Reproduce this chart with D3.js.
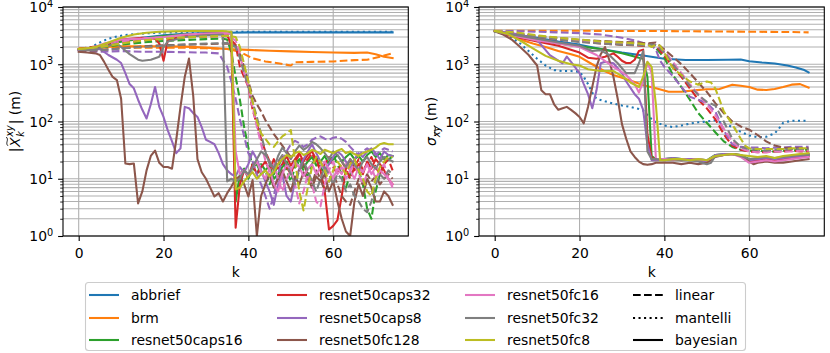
<!DOCTYPE html>
<html><head><meta charset="utf-8">
<script src="https://cdn.jsdelivr.net/npm/d3@7"></script>
<style>body{margin:0;background:#fff}text{font-family:"DejaVu Sans",sans-serif;fill:#000}</style>
</head><body><svg id="c" width="830" height="353" xmlns="http://www.w3.org/2000/svg"></svg>
<script>
const models = ["abbrief","brm","resnet50caps16","resnet50caps32","resnet50caps8","resnet50fc128","resnet50fc16","resnet50fc32","resnet50fc8"];
const colors = ["#1f77b4","#ff7f0e","#2ca02c","#d62728","#9467bd","#8c564b","#e377c2","#7f7f7f","#bcbd22"];
const methods = ["linear","mantelli","bayesian"];
const xTicks = [0,20,40,60];
const yTicks = [1,10,100,1000,10000];
const kMax = 74;

// ---------- left panel: |X_k^xy| (m) ----------
const xy_abbrief_mantelli = [[0,1800],[2,1850],[3,2000],[5,2400],[7,2800],[9,3050],[11,3250],[14,3400],[17,3500],[20,3580],[25,3650],[30,3700],[40,3700],[50,3680],[60,3680],[74,3680]];
const xy_abbrief_bayesian = [[0,1800],[3,1850],[6,2100],[10,2500],[15,2900],[20,3200],[25,3400],[30,3500],[35,3550],[40,3600],[50,3600],[60,3600],[74,3600]];
const xy_brm_linear = [[0,1900],[5,1950],[10,1950],[15,1950],[20,1950],[25,1950],[30,1900],[35,1850],[38,1650],[41,1270],[44,1120],[47,1040],[50,950],[51,1080],[55,1100],[60,1120],[65,1180],[68,1200],[71,1350],[74,1550]];
const xy_brm_bayesian = [[0,1850],[5,2000],[10,2050],[20,2050],[25,2030],[30,1950],[35,1850],[40,1780],[45,1720],[50,1680],[55,1640],[60,1600],[65,1580],[68,1600],[70,1500],[72,1350],[74,1280]];
const xy_caps16_linear = [[0,1800],[5,1950],[10,2200],[15,2400],[20,2550],[25,2650],[30,2750],[34,2800],[35,2700],[36,1600],[37,600],[38,240],[39,80],[40,35],[41,16],[42,12],[43,18],[44,14],[45,8],[46,12],[47,17],[48,22],[49,14],[50,9],[51,16],[52,20],[53,14],[54,11],[55,18],[56,24],[57,16],[58,12],[59,20],[60,26],[61,18],[62,12],[63,7],[64,12],[65,18],[66,14],[67,8],[68,3],[69,2],[70,6],[71,12],[72,18],[73,22],[74,24]];
const xy_caps16_bayesian = [[0,1800],[3,1800],[6,2100],[10,2500],[15,2800],[20,3100],[25,3300],[30,3400],[35,3500],[36,3400],[37,4],[38,12],[39,15],[40,10],[41,16],[42,18],[43,12],[44,14],[45,17],[46,10],[47,12],[48,16],[49,20],[50,14],[51,18],[52,22],[53,16],[54,20],[55,24],[56,17],[57,20],[58,25],[59,18],[60,22],[61,26],[62,20],[63,24],[64,28],[65,22],[66,25],[67,20],[68,26],[69,30],[70,24],[71,28],[72,22],[73,26],[74,25]];
const xy_caps32_linear = [[0,1850],[5,2100],[10,2400],[15,2600],[20,2800],[25,2950],[30,3050],[35,3100],[37,2200],[38,900],[40,400],[41,160],[42,90],[43,50],[44,30],[45,20],[46,14],[47,18],[48,24],[49,16],[50,12],[51,20],[52,26],[53,18],[54,22],[55,28],[56,20],[57,14],[58,18],[59,24],[60,16],[61,12],[62,20],[63,15],[64,10],[65,16],[66,22],[67,14],[68,18],[69,24],[70,16],[71,12],[72,18],[73,22],[74,14]];
const xy_caps32_bayesian = [[0,1800],[3,1850],[6,2200],[10,2700],[15,2900],[18,2800],[19,2300],[20,1150],[21,2600],[25,3200],[30,3400],[35,3450],[36,2000],[37,1.4],[38,8],[39,14],[40,11],[41,18],[42,12],[43,16],[44,20],[45,14],[46,22],[47,15],[48,18],[49,25],[50,17],[51,22],[52,28],[53,20],[54,26],[55,30],[56,22],[57,14],[58,6],[59,1.3],[60,1.5],[61,1.9],[62,5],[63,15],[64,22],[65,14],[66,18],[67,12],[68,20],[69,15],[70,22],[71,18],[72,14],[73,10],[74,8]];
const xy_caps8_linear = [[0,1750],[5,1650],[10,1700],[15,1650],[20,1650],[25,1620],[30,1600],[33,1550],[35,900],[36,500],[37,250],[38,110],[39,55],[40,28],[41,20],[42,12],[43,8],[44,5],[45,3],[46,5],[47,12],[48,22],[49,30],[50,40],[51,46],[52,42],[53,36],[54,40],[55,48],[56,52],[57,55],[58,50],[59,48],[60,52],[61,54],[62,50],[63,44],[64,36],[65,30],[66,26],[67,30],[68,34],[69,30],[70,26],[71,30],[72,34],[73,32],[74,30]];
const xy_caps8_bayesian = [[0,1750],[3,1800],[5,1850],[7,1450],[9,1200],[10,1050],[11,700],[12,450],[13,380],[14,240],[15,160],[16,113],[17,200],[18,400],[19,180],[20,120],[21,70],[22,45],[23,28],[24,34],[25,180],[26,170],[27,140],[28,120],[29,80],[30,48],[31,44],[32,40],[33,28],[34,18],[35,14],[36,12],[37,11],[38,16],[39,13],[40,18],[41,30],[42,22],[43,14],[44,9],[45,6],[46,3.5],[47,8],[48,12],[49,5],[50,4],[51,9],[52,15],[53,22],[54,30],[55,40],[56,28],[57,20],[58,14],[59,18],[60,24],[61,30],[62,26],[63,20],[64,15],[65,22],[66,28],[67,24],[68,30],[69,34],[70,28],[71,22],[72,30],[73,26],[74,25]];
const xy_fc128_linear = [[0,1750],[5,1750],[10,1900],[15,2050],[20,2150],[25,2200],[30,2250],[35,2300],[37,2100],[38,1500],[39,900],[40,500],[41,280],[42,200],[43,150],[44,106],[45,80],[46,60],[47,48],[48,38],[49,30],[50,24],[51,18],[52,14],[53,18],[54,12],[55,8],[56,14],[57,10],[58,6],[59,9],[60,12],[61,8],[62,5],[63,4],[64,3.5],[65,6],[66,10],[67,8],[68,12],[69,9],[70,11],[71,8],[72,10],[73,12],[74,10]];
const xy_fc128_bayesian = [[0,1650],[2,1600],[4,1550],[5,1450],[6,1100],[7,800],[8,600],[9,530],[10,250],[11,18.5],[12,18],[13,18.5],[14,3.7],[15,6],[16,14],[17,25],[18,31],[19,19],[20,16],[21,16],[22,15],[23,48],[24,180],[25,600],[26,1260],[27,280],[28,22],[29,13],[30,10],[31,7],[32,4.9],[33,5.6],[34,4],[35,5.6],[36,7.3],[37,10],[38,11],[39,8],[40,4.9],[41,9.5],[42,1],[43,5],[44,8],[45,12],[46,7],[47,10],[48,14],[49,9],[50,6],[51,11],[52,8],[53,13],[54,10],[55,7],[56,11],[57,9],[58,12],[59,6],[60,9],[61,4],[62,2],[63,1.2],[64,1],[65,4],[66,8],[67,5],[68,10],[69,7],[70,4],[71,4],[72,6],[73,5],[74,3.5]];
const xy_fc16_linear = [[0,1800],[5,2000],[10,2500],[15,2800],[20,2950],[25,3050],[30,3150],[35,3200],[37,2600],[38,1500],[39,700],[40,400],[41,180],[42,81],[43,40],[44,21],[45,14],[46,18],[47,10],[48,6],[49,10],[50,14],[51,8],[52,3.7],[53,6],[54,12],[55,8],[56,4],[57,3.3],[58,8],[59,14],[60,20],[61,12],[62,16],[63,10],[64,14],[65,18],[66,12],[67,8],[68,12],[69,16],[70,10],[71,14],[72,18],[73,10],[74,7]];
const xy_fc16_bayesian = [[0,1800],[3,1900],[6,2300],[10,2700],[15,2800],[20,3000],[25,3300],[30,3450],[35,3500],[36,3300],[37,30],[38,12],[39,14],[40,11],[41,16],[42,20],[43,13],[44,10],[45,15],[46,8],[47,6],[48,12],[49,18],[50,14],[51,20],[52,16],[53,11],[54,15],[55,18],[56,12],[57,16],[58,20],[59,14],[60,10],[61,15],[62,12],[63,18],[64,14],[65,10],[66,16],[67,13],[68,18],[69,12],[70,16],[71,14],[72,12],[73,10],[74,8]];
const xy_fc32_linear = [[0,1800],[5,1750],[10,1900],[15,2000],[20,2100],[25,2200],[30,2300],[35,2350],[37,2000],[38,1300],[39,700],[40,400],[41,220],[42,120],[43,60],[44,30],[45,18],[46,14],[47,20],[48,26],[49,18],[50,12],[51,8],[52,14],[53,20],[54,14],[55,9],[56,6],[57,10],[58,16],[59,12],[60,8],[61,12],[62,10],[63,6],[64,8],[65,5],[66,4],[67,3],[68,2.6],[69,4],[70,8],[71,12],[72,10],[73,14],[74,12]];
const xy_fc32_bayesian = [[0,1800],[3,1750],[6,2000],[9,2300],[10,2000],[12,1500],[14,1200],[15,1150],[17,1200],[19,1350],[20,2000],[21,2500],[25,3000],[30,3200],[34,3300],[35,9],[36,10],[37,9],[38,10],[39,14],[40,12],[41,16],[42,22],[43,30],[44,26],[45,20],[46,15],[47,25],[48,35],[49,28],[50,22],[51,30],[52,38],[53,32],[54,36],[55,44],[56,40],[57,34],[58,28],[59,22],[60,30],[61,26],[62,20],[63,16],[64,22],[65,18],[66,14],[67,20],[68,24],[69,18],[70,15],[71,20],[72,24],[73,22],[74,20]];
const xy_fc8_linear = [[0,1850],[5,2000],[10,2300],[15,2600],[20,2800],[25,2950],[30,3050],[35,3150],[37,3000],[38,2000],[39,1000],[40,500],[41,220],[42,100],[43,62],[44,50],[45,40],[46,36],[47,45],[48,55],[49,62],[50,71],[51,21],[52,6],[53,2.8],[54,7],[55,16],[56,24],[57,20],[58,14],[59,9],[60,14],[61,20],[62,16],[63,12],[64,18],[65,22],[66,14],[67,10],[68,6],[69,5],[70,10],[71,16],[72,20],[73,24],[74,24]];
const xy_fc8_bayesian = [[0,1850],[2,1900],[4,2000],[7,2400],[10,2900],[13,3300],[16,3550],[19,3700],[22,3750],[26,3800],[30,3800],[34,3800],[36,3700],[37,6.5],[38,7],[39,9],[40,11],[41,13],[42,10],[43,12],[44,14],[45,11],[46,13],[47,18],[48,22],[49,26],[50,24],[51,28],[52,30],[53,26],[54,28],[55,32],[56,30],[57,27],[58,32],[59,30],[60,28],[61,31],[62,33],[63,28],[64,30],[65,27],[66,25],[67,28],[68,30],[69,32],[70,35],[71,40],[72,42],[73,40],[74,40]];

// ---------- right panel: sigma (m) ----------
const sd_abbrief_mantelli = [[0,3800],[2,3400],[4,2900],[6,2300],[8,1700],[10,1250],[12,950],[14,790],[16,760],[18,760],[20,740],[21,600],[22,450],[23,320],[24,250],[26,225],[28,205],[30,190],[32,180],[34,165],[35,155],[36,130],[37,110],[38,97],[40,85],[42,80],[44,85],[46,92],[48,97],[50,100],[52,105],[54,92],[56,80],[58,66],[60,57],[62,53],[64,54],[66,62],[67,75],[68,95],[70,103],[74,103]];
const sd_abbrief_bayesian = [[0,3800],[5,3300],[10,2900],[15,2500],[20,2200],[25,1850],[30,1600],[35,1420],[40,1250],[45,1190],[50,1190],[55,1200],[58,1210],[60,1130],[63,1070],[66,1030],[69,950],[71,880],[73,790],[74,720]];
const sd_brm_linear = [[0,3850],[10,3850],[20,3850],[30,3800],[40,3800],[50,3750],[60,3700],[70,3650],[74,3600]];
const sd_brm_bayesian = [[0,3800],[3,3300],[6,2700],[9,2300],[12,2000],[15,1700],[18,1500],[20,1350],[23,1000],[26,750],[28,650],[30,580],[33,490],[35,430],[38,380],[41,330],[44,330],[47,350],[50,365],[53,370],[56,440],[58,420],[60,400],[62,360],[64,355],[66,370],[68,400],[70,440],[72,450],[74,390]];
const sd_caps16_linear = [[0,3800],[5,3500],[10,3100],[15,2800],[20,2600],[25,2400],[30,2200],[34,2150],[36,2100],[37,2300],[38,1900],[40,1300],[42,650],[44,400],[46,240],[48,140],[50,95],[52,65],[54,45],[56,36],[58,32],[60,31],[62,31],[64,30],[66,30],[68,31],[70,31],[72,32],[74,32]];
const sd_caps16_bayesian = [[0,3800],[5,3200],[10,2600],[15,2300],[20,2050],[25,1850],[30,1550],[34,1300],[35,1250],[36,600],[37,25],[38,22],[40,22],[42,23],[44,22],[46,21],[48,22],[50,21],[52,26],[54,27],[56,27],[58,26],[60,22],[61,20],[63,22],[65,23],[67,22],[69,24],[71,25],[73,27],[74,27]];
const sd_caps32_linear = [[0,3800],[5,3400],[10,3000],[15,2700],[20,2500],[25,2300],[30,2200],[35,2100],[37,2300],[38,2100],[40,1400],[42,900],[44,600],[46,380],[48,240],[50,170],[52,110],[54,60],[56,38],[58,32],[60,30],[62,29],[64,29],[66,30],[68,30],[70,31],[72,30],[74,30]];
const sd_caps32_bayesian = [[0,3800],[5,3000],[10,2500],[15,2100],[20,1600],[22,1300],[24,1250],[26,1350],[28,1550],[29,1350],[30,1150],[31,1050],[32,1050],[33,1200],[34,1700],[35,1800],[36,60],[37,23],[38,22],[40,21],[42,22],[44,21],[46,22],[48,21],[50,20],[52,25],[54,26],[56,27],[58,25],[60,20],[62,21],[64,22],[66,21],[68,22],[70,23],[72,24],[74,25]];
const sd_caps8_linear = [[0,3800],[5,3800],[10,3700],[15,3600],[20,3500],[25,3300],[30,2900],[33,2600],[35,2350],[37,2100],[38,1800],[39,1150],[40,900],[42,620],[44,400],[46,270],[48,240],[50,210],[52,150],[54,70],[56,40],[58,36],[60,35],[62,35],[64,34],[66,35],[68,35],[70,36],[72,36],[74,36]];
const sd_caps8_bayesian = [[0,3800],[4,3500],[8,3000],[10,2650],[13,1440],[16,1040],[17,1360],[18,1100],[20,700],[21,450],[22,300],[23,170],[24,350],[25,1040],[26,1110],[28,1040],[30,700],[31,500],[33,300],[34,250],[35,160],[36,40],[37,21],[38,21],[40,22],[42,23],[44,22],[46,22],[48,21],[50,20],[52,26],[54,27],[56,27],[58,25],[60,21],[62,22],[64,23],[66,22],[68,23],[70,24],[72,25],[74,26]];
const sd_fc128_linear = [[0,3800],[4,3500],[8,3200],[12,3000],[16,2850],[20,2650],[25,2550],[30,2450],[34,2400],[36,2300],[38,2400],[40,1800],[42,1350],[44,1000],[46,700],[48,480],[50,330],[52,210],[54,140],[56,100],[58,82],[60,72],[62,58],[64,45],[66,38],[68,35],[70,34],[72,34],[74,34]];
const sd_fc128_bayesian = [[0,3750],[2,3300],[4,2700],[6,2000],[8,1450],[10,950],[11,350],[12,300],[13,300],[14,200],[15,160],[16,170],[17,180],[18,160],[19,140],[20,120],[21,93],[22,180],[23,400],[24,900],[25,1500],[26,2000],[27,1200],[28,600],[29,250],[30,90],[31,50],[32,30],[33,24],[34,20],[35,18],[36,17.5],[37,18],[38,19],[40,19],[42,19],[44,18],[46,19],[48,18],[50,19],[52,24],[54,26],[56,27],[58,26],[59,23],[60,20],[61,18],[62,19],[64,20],[66,19],[68,19],[70,20],[72,21],[74,22]];
const sd_fc16_linear = [[0,3800],[5,3500],[10,3100],[15,2800],[20,2600],[25,2400],[30,2300],[35,2200],[37,2100],[38,2200],[40,1700],[42,1100],[44,700],[46,450],[48,300],[50,200],[52,130],[54,75],[56,45],[58,34],[60,30],[62,29],[64,29],[66,30],[68,30],[70,30],[72,31],[74,31]];
const sd_fc16_bayesian = [[0,3800],[5,3100],[10,2600],[15,2300],[20,2000],[24,1450],[28,900],[31,650],[33,450],[34,320],[35,500],[36,1100],[37,700],[38,22],[40,22],[42,21],[44,22],[46,21],[48,22],[50,21],[52,25],[54,26],[56,27],[58,24],[60,19],[62,20],[64,21],[66,20],[68,21],[70,22],[72,23],[74,24]];
const sd_fc32_linear = [[0,3750],[5,3400],[10,3000],[15,2700],[20,2450],[25,2300],[30,2200],[35,2150],[37,2200],[38,2150],[40,1600],[42,1000],[44,650],[46,420],[48,290],[50,220],[52,190],[54,100],[56,50],[58,36],[60,33],[62,32],[64,31],[66,32],[68,32],[70,33],[72,33],[74,33]];
const sd_fc32_bayesian = [[0,3750],[5,3200],[10,2800],[15,2400],[20,2100],[23,1700],[25,1750],[27,1450],[29,1040],[31,700],[33,700],[34,1040],[35,1700],[36,30],[37,22],[38,22],[40,21],[42,22],[44,21],[46,21],[48,20],[50,18],[51,19],[52,25],[54,26],[56,27],[58,25],[60,22],[62,23],[64,24],[66,23],[68,24],[70,25],[72,26],[74,26]];
const sd_fc8_linear = [[0,3800],[5,3600],[10,3200],[15,2900],[20,2700],[25,2500],[30,2400],[34,2300],[36,2200],[37,2000],[38,2200],[39,2100],[40,1600],[42,850],[44,650],[46,500],[48,440],[50,500],[51,480],[52,380],[53,240],[54,150],[56,90],[58,50],[59,38],[60,34],[62,33],[64,33],[66,33],[68,33],[70,34],[72,34],[74,34]];
const sd_fc8_bayesian = [[0,3800],[3,3400],[6,2600],[9,1900],[12,1400],[15,1150],[18,1000],[20,950],[22,820],[25,760],[28,760],[30,620],[32,480],[34,400],[35,600],[36,1100],[37,900],[38,200],[39,21],[40,21],[42,22],[44,22],[46,21],[48,22],[50,21],[52,25],[54,26],[56,27],[58,26],[60,25],[62,24],[64,25],[66,23],[68,25],[70,26],[72,27],[74,28]];

// series lists: [model index, method, data]
const leftSeries = [
  [0,"mantelli",xy_abbrief_mantelli],[0,"bayesian",xy_abbrief_bayesian],
  [1,"linear",xy_brm_linear],[1,"bayesian",xy_brm_bayesian],
  [2,"linear",xy_caps16_linear],[2,"bayesian",xy_caps16_bayesian],
  [3,"linear",xy_caps32_linear],[3,"bayesian",xy_caps32_bayesian],
  [4,"linear",xy_caps8_linear],[4,"bayesian",xy_caps8_bayesian],
  [5,"linear",xy_fc128_linear],[5,"bayesian",xy_fc128_bayesian],
  [6,"linear",xy_fc16_linear],[6,"bayesian",xy_fc16_bayesian],
  [7,"linear",xy_fc32_linear],[7,"bayesian",xy_fc32_bayesian],
  [8,"linear",xy_fc8_linear],[8,"bayesian",xy_fc8_bayesian]
];
const rightSeries = [
  [0,"mantelli",sd_abbrief_mantelli],[0,"bayesian",sd_abbrief_bayesian],
  [1,"linear",sd_brm_linear],[1,"bayesian",sd_brm_bayesian],
  [2,"linear",sd_caps16_linear],[2,"bayesian",sd_caps16_bayesian],
  [3,"linear",sd_caps32_linear],[3,"bayesian",sd_caps32_bayesian],
  [4,"linear",sd_caps8_linear],[4,"bayesian",sd_caps8_bayesian],
  [5,"linear",sd_fc128_linear],[5,"bayesian",sd_fc128_bayesian],
  [6,"linear",sd_fc16_linear],[6,"bayesian",sd_fc16_bayesian],
  [7,"linear",sd_fc32_linear],[7,"bayesian",sd_fc32_bayesian],
  [8,"linear",sd_fc8_linear],[8,"bayesian",sd_fc8_bayesian]
];

const svg = d3.select("#c");
svg.append("rect").attr("width",830).attr("height",353).attr("fill","#fff");
const LW = 2.08, FS = 13.9;
const dashes = {linear:"7.7,3.33", mantelli:"2.08,3.44", bayesian:null};
const yTop = 7, yBot = 236;

function panel(id, x0, x1, series) {
  const xs = d3.scaleLinear().domain([-0.05*kMax, kMax*1.05]).range([x0, x1]);
  const ys = d3.scaleLog().domain([1, 1e4]).range([yBot, yTop]);
  const g = svg.append("g");
  const minor = [];
  for (let e = 0; e < 4; e++) for (let m = 2; m <= 9; m++) minor.push(m * Math.pow(10, e));
  g.append("g").selectAll("line").data(yTicks.concat(minor)).join("line")
    .attr("x1", x0).attr("x2", x1).attr("y1", d => ys(d)).attr("y2", d => ys(d))
    .attr("stroke", "#b0b0b0").attr("stroke-width", 1.1);
  g.append("g").selectAll("line").data(xTicks).join("line")
    .attr("x1", d => xs(d)).attr("x2", d => xs(d)).attr("y1", yTop).attr("y2", yBot)
    .attr("stroke", "#b0b0b0").attr("stroke-width", 1.1);
  svg.append("clipPath").attr("id", "clip" + id).append("rect")
    .attr("x", x0).attr("y", yTop).attr("width", x1 - x0).attr("height", yBot - yTop);
  const line = d3.line().x(d => xs(d[0])).y(d => ys(d[1]));
  const lg = g.append("g").attr("clip-path", `url(#clip${id})`);
  series.forEach(([mi, meth, data]) => {
    lg.append("path").attr("d", line(data)).attr("fill", "none")
      .attr("stroke", colors[mi]).attr("stroke-width", LW)
      .attr("stroke-dasharray", dashes[meth])
      .attr("stroke-linejoin", "round")
      .attr("stroke-linecap", meth === "bayesian" ? "square" : "butt");
  });
  g.append("rect").attr("x", x0).attr("y", yTop).attr("width", x1 - x0).attr("height", yBot - yTop)
    .attr("fill", "none").attr("stroke", "#000").attr("stroke-width", 1.1);
  const xa = g.append("g").attr("transform", `translate(0,${yBot})`)
    .call(d3.axisBottom(xs).tickValues(xTicks).tickSize(4.9).tickPadding(3.5).tickFormat(d3.format("d")));
  xa.select(".domain").remove();
  xa.selectAll(".tick line").attr("stroke-width", 1.1);
  xa.selectAll(".tick text").style("font-size", FS + "px").attr("font-family", null).attr("dy", "0.95em");
  const ya = g.append("g").attr("transform", `translate(${x0},0)`)
    .call(d3.axisLeft(ys).tickValues(yTicks).tickSize(4.9).tickPadding(4.9).tickFormat(() => ""));
  ya.select(".domain").remove();
  ya.selectAll(".tick line").attr("stroke-width", 1.1);
  ya.selectAll(".tick text").each(function (d) {
    const t = d3.select(this).attr("dy", null).attr("y", 4.8).attr("font-family", null).style("font-size", FS + "px");
    t.text("10");
    t.append("tspan").attr("dy", -5.2).style("font-size", (FS * 0.7) + "px").text(String(Math.round(Math.log10(d))));
  });
  const ym = g.append("g").attr("transform", `translate(${x0},0)`)
    .call(d3.axisLeft(ys).tickValues(minor).tickSize(2.8).tickFormat(() => ""));
  ym.select(".domain").remove();
  ym.selectAll(".tick line").attr("stroke-width", 0.85);
  g.append("text").attr("x", (x0 + x1) / 2).attr("y", 277).attr("text-anchor", "middle")
    .style("font-size", FS + "px").text("k");
  return g;
}

function mathLabel(tx, ty, pieces) {
  const g = svg.append("g").attr("transform", `translate(${tx},${ty}) rotate(-90)`);
  const inner = g.append("g");
  let x = 0, holdW = null;
  pieces.forEach(p => {
    x += (p.pre || 0);
    const t = inner.append("text").attr("x", x).attr("y", p.dy || 0)
      .style("font-size", p.size + "px").style("font-style", p.italic ? "italic" : "normal").text(p.t);
    const w = t.node().getComputedTextLength();
    if (p.tilde) {
      const y0 = (p.dy || 0) - p.size * 0.74 - p.tilde, a = x + 1.2, b = x + w + 0.4;
      inner.append("path").attr("d", `M${a},${y0 + 0.8} C${a + (b - a) * 0.35},${y0 - 2.2} ${a + (b - a) * 0.65},${y0 + 2.2} ${b},${y0 - 0.8}`)
        .attr("fill", "none").attr("stroke", "#000").attr("stroke-width", 0.9);
    }
    if (p.hold) { holdW = w; }
    else if (holdW !== null) { x += Math.max(holdW, w); holdW = null; }
    else x += w;
    x += (p.post || 0);
  });
  inner.attr("transform", `translate(${-x / 2},0)`);
}

const xL0 = 63, xL1 = 408.3, xR0 = 479, xR1 = 824.3;
panel("L", xL0, xL1, leftSeries);
panel("R", xR0, xR1, rightSeries);

mathLabel(20, (yTop + yBot) / 2, [
  {t: "|", size: FS, post: 0.5},
  {t: "X", size: FS, italic: true, tilde: 2.6, post: 0.8},
  {t: "xy", size: FS * 0.7, italic: true, dy: -6.8, hold: true},
  {t: "k", size: FS * 0.7, italic: true, dy: 3.5},
  {t: "|", size: FS, pre: 0.8},
  {t: "\u00a0(m)", size: FS}
]);
mathLabel(436, (yTop + yBot) / 2, [
  {t: "σ", size: FS, italic: true},
  {t: "xy", size: FS * 0.7, italic: true, dy: 3.8, tilde: -2.4},
  {t: "\u00a0(m)", size: FS}
]);

const lgd = svg.append("g");
lgd.append("rect").attr("x", 85.5).attr("y", 282.5).attr("width", 660).attr("height", 68).attr("rx", 3)
  .attr("fill", "#fff").attr("fill-opacity", 0.8).attr("stroke", "#cccccc").attr("stroke-width", 1.1);
const colX = [89, 277, 465, 633];
const rowY = [295, 318, 340];
const legendItems = models.map((m, i) => ({label: m, color: colors[i], dash: null}))
  .concat(methods.map(m => ({label: m, color: "#000", dash: dashes[m]})));
legendItems.forEach((it, i) => {
  const c = Math.floor(i / 3), r = i % 3;
  const lx = colX[c], ly = rowY[r];
  lgd.append("line").attr("x1", lx).attr("x2", lx + 30).attr("y1", ly).attr("y2", ly)
    .attr("stroke", it.color).attr("stroke-width", LW).attr("stroke-dasharray", it.dash);
  lgd.append("text").attr("x", lx + 42).attr("y", ly + 5).style("font-size", FS + "px").text(it.label);
});
</script></body></html>
